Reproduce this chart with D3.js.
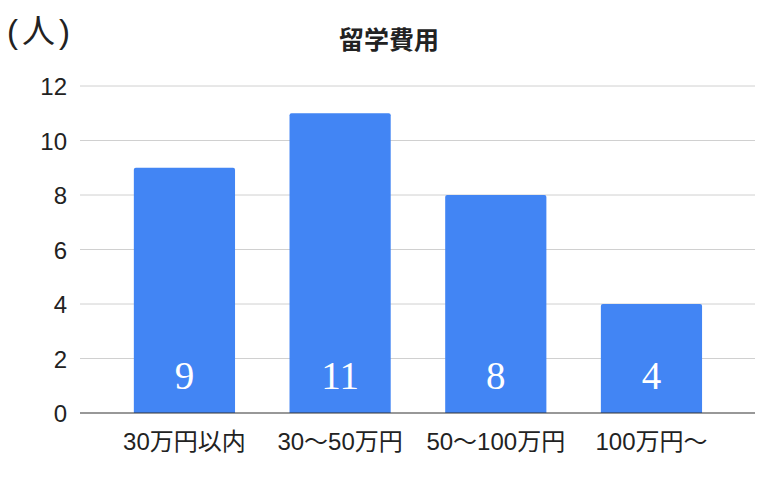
<!DOCTYPE html>
<html>
<head>
<meta charset="utf-8">
<script src="https://cdn.jsdelivr.net/npm/d3@7"></script>
<style>
  html, body { margin: 0; padding: 0; background: #fff; }
  svg { display: block; }
</style>
</head>
<body>
<svg id="chart" width="780" height="482"></svg>
<script>
/* 留学費用 bar chart */

const categories = ["30万円以内", "30〜50万円", "50〜100万円", "100万円〜"];
const counts = [9, 11, 8, 4];
const yTicks = [0, 2, 4, 6, 8, 10, 12];

const svg = d3.select("#chart");
const sans = "'Liberation Sans', Arial, 'Noto Sans CJK JP', sans-serif";

const x = d3.scaleBand()
  .domain(categories)
  .range([106.6, 729.3])
  .paddingInner(0.35)
  .paddingOuter(0.175);

const y = d3.scaleLinear().domain([0, 12]).range([413, 86]);

// gridlines
svg.append("g")
  .selectAll("line")
  .data(yTicks.filter((t) => t !== 0))
  .join("line")
  .attr("x1", 80).attr("x2", 755)
  .attr("y1", (d) => y(d)).attr("y2", (d) => y(d))
  .attr("stroke", "#d0d0d0")
  .attr("stroke-width", 1);

// y tick labels
svg.append("g")
  .selectAll("text")
  .data(yTicks)
  .join("text")
  .attr("x", 67)
  .attr("y", (d) => y(d) + 1)
  .attr("dy", "0.35em")
  .attr("text-anchor", "end")
  .attr("font-family", sans)
  .attr("font-size", 24)
  .attr("fill", "#222")
  .text((d) => d);

// bars
const bw = x.bandwidth();
svg.append("g")
  .selectAll("path")
  .data(categories)
  .join("path")
  .attr("fill", "#4285f4")
  .attr("d", (c, i) => {
    const x0 = x(c), y0 = y(counts[i]), yb = y(0), r = 2;
    return `M${x0},${yb}V${y0 + r}Q${x0},${y0} ${x0 + r},${y0}H${x0 + bw - r}Q${x0 + bw},${y0} ${x0 + bw},${y0 + r}V${yb}Z`;
  });

// value labels
svg.append("g")
  .selectAll("text")
  .data(categories)
  .join("text")
  .attr("x", (c) => x(c) + bw / 2)
  .attr("y", 389)
  .attr("text-anchor", "middle")
  .attr("font-family", "'Liberation Serif', 'Times New Roman', serif")
  .attr("font-size", 39)
  .attr("fill", "#fff")
  .text((c, i) => counts[i]);

// baseline
svg.append("line")
  .attr("x1", 80).attr("x2", 755)
  .attr("y1", y(0)).attr("y2", y(0))
  .attr("stroke", "#333")
  .attr("stroke-width", 1.2);

// x labels
svg.append("g")
  .selectAll("text")
  .data(categories)
  .join("text")
  .attr("x", (c) => x(c) + bw / 2)
  .attr("y", 450)
  .attr("text-anchor", "middle")
  .attr("font-family", sans)
  .attr("font-size", 24)
  .attr("fill", "#222")
  .text((c) => c);

// title
svg.append("text")
  .attr("x", 389)
  .attr("y", 49)
  .attr("text-anchor", "middle")
  .attr("font-family", sans)
  .attr("font-weight", "bold")
  .attr("font-size", 25)
  .attr("fill", "#222")
  .text("留学費用");

// unit label
svg.append("text")
  .attr("x", 7)
  .attr("y", 43)
  .attr("font-family", sans)
  .attr("font-size", 33)
  .attr("letter-spacing", 4)
  .attr("fill", "#222")
  .text("(人)");
</script>
</body>
</html>
